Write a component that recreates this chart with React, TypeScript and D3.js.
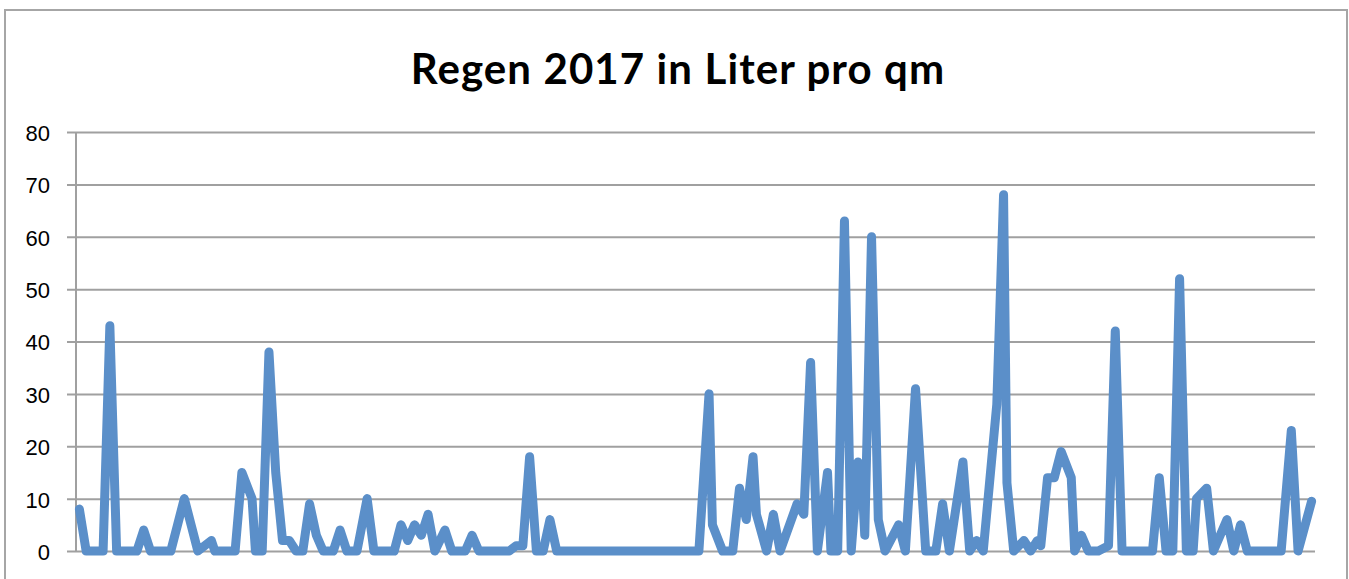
import React, { useEffect, useRef } from 'react';
import * as d3 from 'd3';

// Messtage (Tag im Jahr) und Regenmenge in Liter pro qm
const days = [
  1, 3, 8, 10, 12, 18, 20, 22, 28, 30, 32, 34, 36, 40, 41, 47, 49, 52, 53, 55,
  57, 59, 61, 63, 65, 67, 69, 71, 73, 76, 78, 80, 83, 86, 88, 94, 96, 98, 100, 102,
  104, 106, 109, 111, 115, 117, 119, 128, 130, 132, 134, 136, 138, 140, 142, 184, 187, 188, 191, 194,
  196, 198, 200, 201, 204, 206, 208, 213, 215, 217, 219, 222, 223, 225, 227, 229, 231, 232, 233, 235,
  237, 239, 243, 245, 248, 251, 254, 256, 258, 262, 264, 266, 268, 272, 274, 275, 277, 280, 282, 284,
  285, 287, 289, 291, 294, 295, 297, 299, 302, 305, 307, 309, 318, 320, 322, 324, 326, 328, 330, 331,
  334, 336, 340, 342, 344, 346, 356, 359, 361, 365,
];
const rain = [
  8, 0, 0, 43, 0, 0, 4, 0, 0, 5, 10, 5, 0, 2, 0, 0, 15, 10, 0, 0,
  38, 15, 2, 2, 0, 0, 9, 3, 0, 0, 4, 0, 0, 10, 0, 0, 5, 2, 5, 3,
  7, 0, 4, 0, 0, 3, 0, 0, 1, 1, 18, 0, 0, 6, 0, 0, 30, 5, 0, 0,
  12, 6, 18, 7, 0, 7, 0, 9, 7, 36, 0, 15, 0, 0, 63, 0, 17, 16, 3, 60,
  6, 0, 5, 0, 31, 0, 0, 9, 0, 17, 0, 2, 0, 28, 68, 13, 0, 2, 0, 2,
  1, 14, 14, 19, 14, 0, 3, 0, 0, 1, 42, 0, 0, 14, 0, 0, 52, 0, 0, 10,
  12, 0, 6, 0, 5, 0, 0, 23, 0, 9.5,
];
const yTicks = [0, 10, 20, 30, 40, 50, 60, 70, 80];
const title = 'Regen 2017 in Liter pro qm';

const RainChart: React.FC = () => {
  const svgRef = useRef<SVGSVGElement | null>(null);

  useEffect(() => {
    if (!svgRef.current) return;
    const width = 1349;
    const height = 579;
    const plot = { left: 76, right: 1315, top: 132, bottom: 551 };

    const svg = d3.select(svgRef.current);
    svg.selectAll('*').remove();
    svg.attr('width', width).attr('height', height);

    svg
      .append('rect')
      .attr('width', width)
      .attr('height', height)
      .attr('fill', '#fff');

    // chart border
    svg
      .append('rect')
      .attr('x', 5)
      .attr('y', 10)
      .attr('width', 1342)
      .attr('height', 600)
      .attr('fill', 'none')
      .attr('stroke', '#a6a6a6')
      .attr('stroke-width', 2);

    svg
      .append('text')
      .attr('x', 678)
      .attr('y', 84)
      .attr('text-anchor', 'middle')
      .style('font-family', 'Lato, "Open Sans", sans-serif')
      .style('font-weight', 'bold')
      .style('font-size', '42px')
      .style('letter-spacing', '1.1px')
      .attr('fill', '#000')
      .text(title);

    const x = d3.scaleLinear().domain([0, 366]).range([plot.left, plot.right]);
    const y = d3.scaleLinear().domain([0, 80]).range([plot.bottom, plot.top]);

    // gridlines + y axis
    const yAxis = svg
      .append('g')
      .attr('transform', `translate(${plot.left},0)`)
      .call(
        d3
          .axisLeft(y)
          .tickValues(yTicks)
          .tickSize(-(plot.right - plot.left))
          .tickPadding(26)
      );
    yAxis.select('.domain').remove();
    yAxis
      .selectAll('line')
      .attr('x1', -9)
      .attr('x2', plot.right - plot.left)
      .attr('stroke', '#a0a0a0')
      .attr('stroke-width', 2);
    yAxis
      .selectAll('text')
      .attr('dy', '0.38em')
      .attr('fill', '#000')
      .style('font-family', '"Liberation Sans", Arial, sans-serif')
      .style('font-size', '22px');

    svg
      .append('line')
      .attr('x1', plot.left)
      .attr('x2', plot.left)
      .attr('y1', plot.top)
      .attr('y2', plot.bottom)
      .attr('stroke', '#a0a0a0')
      .attr('stroke-width', 2);

    const points = days.map((d, i) => ({ day: d, value: rain[i] }));
    const line = d3
      .line<{ day: number; value: number }>()
      .x((d) => x(d.day))
      .y((d) => y(d.value));

    svg
      .append('path')
      .datum(points)
      .attr('d', line)
      .attr('fill', 'none')
      .attr('stroke', '#5b8fc9')
      .attr('stroke-width', 9)
      .attr('stroke-linejoin', 'round')
      .attr('stroke-linecap', 'round');
  }, []);

  return <svg ref={svgRef} style={{ position: 'absolute', left: 0, top: 0 }}></svg>;
};

export default function App() {
  return <RainChart />;
}
